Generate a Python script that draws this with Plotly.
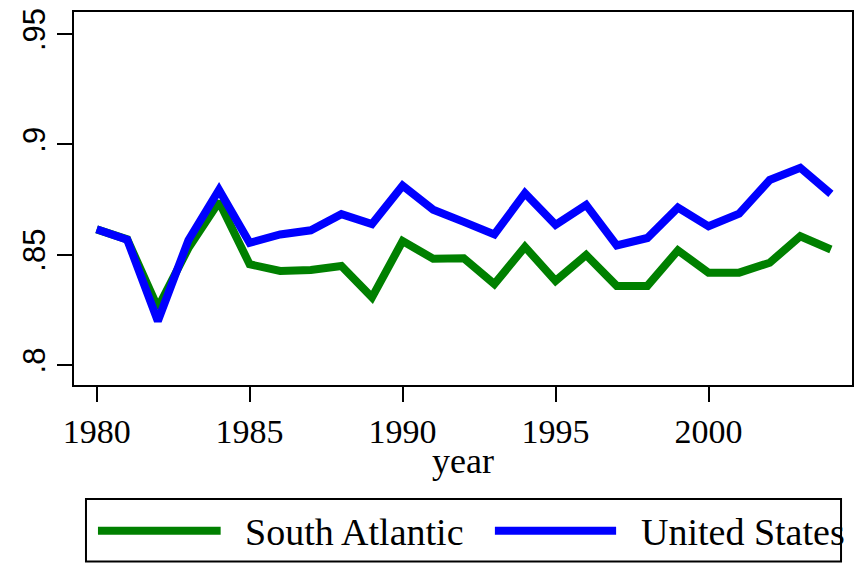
import plotly.graph_objects as go

years = list(range(1980, 2005))
south_atlantic = [0.8615, 0.857, 0.826, 0.853, 0.874, 0.8457, 0.8427, 0.8431, 0.8449, 0.8307,
                  0.8562, 0.8482, 0.8484, 0.8367, 0.8536, 0.8382, 0.8499, 0.8359, 0.8359, 0.8520,
                  0.8419, 0.8419, 0.8464, 0.8584, 0.8524]
united_states = [0.8616, 0.8568, 0.8200, 0.8566, 0.8794, 0.8554, 0.8592, 0.8611, 0.8684, 0.8639,
                 0.8813, 0.8704, 0.8649, 0.8592, 0.8779, 0.8636, 0.8726, 0.8542, 0.8576, 0.8714,
                 0.8629, 0.8686, 0.8839, 0.8894, 0.8776]

series_names = ["South Atlantic", "United States"]
series_colors = ["#008000", "#0000ff"]
series_values = [south_atlantic, united_states]

x_ticks = [1980, 1985, 1990, 1995, 2000]
y_ticks = [0.8, 0.85, 0.9, 0.95]
y_tick_text = [".8", ".85", ".9", ".95"]

FONT = "Liberation Serif"
YFONT = "Liberation Sans"

fig = go.Figure()
for name, color, vals in zip(series_names, series_colors, series_values):
    fig.add_trace(go.Scatter(x=years, y=vals, mode="lines", name=name,
                             line=dict(color=color, width=8), showlegend=False))

# Legend drawn below the plot: framed box with long line samples
fig.add_shape(type="rect", xref="paper", yref="paper",
              x0=0.0154, x1=0.9859, y0=-0.3059, y1=-0.4734,
              line=dict(color="black", width=2), fillcolor="white")
legend_line_x = [(0.0308, 0.1885), (0.5410, 0.6968)]
legend_text_x = [0.2167, 0.7256]
legend_line_y = -0.391
legend_text_y = -0.394
for name, color, (lx0, lx1), tx in zip(series_names, series_colors, legend_line_x, legend_text_x):
    fig.add_shape(type="line", xref="paper", yref="paper",
                  x0=lx0, x1=lx1, y0=legend_line_y, y1=legend_line_y,
                  line=dict(color=color, width=8))
    fig.add_annotation(text=name, xref="paper", yref="paper", x=tx, y=legend_text_y,
                       xanchor="left", yanchor="middle", showarrow=False,
                       font=dict(family=FONT, size=38, color="black"))

# x-axis title
fig.add_annotation(text="year", xref="paper", yref="paper", x=0.5, y=-0.205,
                   xanchor="center", yanchor="middle", showarrow=False,
                   font=dict(family=FONT, size=36, color="black"))

fig.update_layout(
    width=862, height=565,
    margin=dict(l=74, r=8, t=9, b=180),
    paper_bgcolor="white", plot_bgcolor="white",
    font=dict(family=FONT, size=34, color="black"),
    xaxis=dict(range=[1979.26, 2004.69], tickvals=x_ticks,
               showline=True, mirror=True, linecolor="black", linewidth=2,
               ticks="outside", ticklen=15, tickwidth=2, tickcolor="black",
               showgrid=False, zeroline=False,
               tickfont=dict(family=FONT, size=34)),
    yaxis=dict(range=[0.791, 0.960], tickvals=y_ticks, ticktext=y_tick_text,
               tickangle=-90,
               showline=True, mirror=True, linecolor="black", linewidth=2,
               ticks="outside", ticklen=15, tickwidth=2, tickcolor="black",
               showgrid=False, zeroline=False,
               tickfont=dict(family=YFONT, size=31)),
)

fig.write_html("out.html")
